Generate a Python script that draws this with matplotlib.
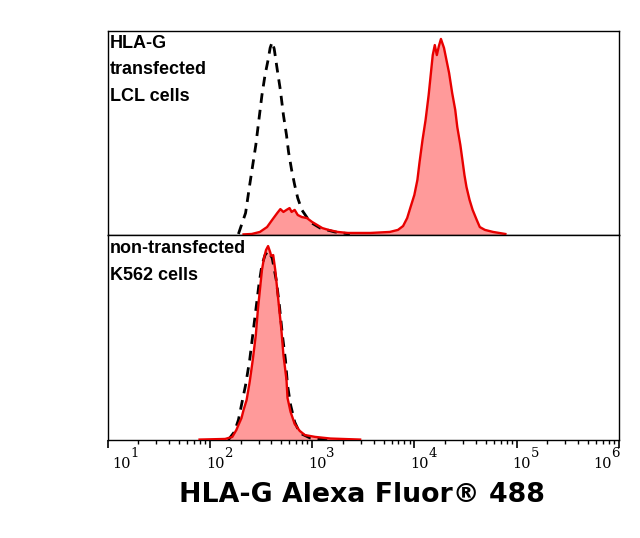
import matplotlib
matplotlib.use("Agg")
import matplotlib.pyplot as plt
import matplotlib.transforms as mtransforms
import numpy as np

# log10 fluorescence, % of max count
top_red_x = [2.33, 2.41, 2.49, 2.56, 2.61, 2.66, 2.69, 2.72, 2.75, 2.78, 2.80, 2.83,
             2.86, 2.90, 2.95, 3.00, 3.05, 3.10, 3.16, 3.25, 3.35, 3.57, 3.76, 3.84,
             3.89, 3.93, 3.96, 4.00, 4.03, 4.05, 4.08, 4.11, 4.14, 4.16, 4.18, 4.20,
             4.22, 4.24, 4.26, 4.29, 4.32, 4.34, 4.37, 4.40, 4.42, 4.45, 4.47, 4.49,
             4.51, 4.54, 4.57, 4.61, 4.64, 4.69, 4.77, 4.89]
top_red_y = [0.3, 0.5, 1.5, 3.9, 7.4, 10.8, 12.7, 11.3, 12.3, 13.2, 11.3, 12.3,
             9.8, 8.8, 8.3, 6.4, 4.9, 3.4, 2.5, 1.5, 1.0, 1.0, 1.5, 2.5,
             4.4, 8.3, 13.2, 19.6, 27.0, 35.3, 46.6, 56.4, 68.6, 78.4, 88.2, 93.1,
             88.2, 92.6, 96.1, 91.7, 84.3, 79.4, 69.6, 61.3, 52.9, 44.1, 36.8, 29.4,
             23.5, 17.2, 12.3, 7.4, 3.9, 2.5, 1.5, 0.5]

top_ctrl_x = [2.28, 2.32, 2.35, 2.39, 2.42, 2.45, 2.48, 2.51, 2.54, 2.57, 2.59, 2.61,
              2.63, 2.66, 2.69, 2.72, 2.75, 2.77, 2.80, 2.83, 2.86, 2.90, 2.98, 3.08,
              3.22, 3.37]
top_ctrl_y = [0.5, 6.4, 10.8, 24.5, 34.3, 44.1, 56.4, 68.6, 78.4, 85.8, 91.7, 94.6,
              91.2, 80.9, 71.1, 58.8, 49.0, 40.7, 31.9, 24.5, 18.1, 12.3, 6.4, 3.4,
              1.5, 0.5]

bot_red_x = [1.90, 2.15, 2.22, 2.26, 2.28, 2.31, 2.33, 2.36, 2.39, 2.42, 2.45, 2.47,
             2.49, 2.51, 2.53, 2.55, 2.57, 2.59, 2.60, 2.62, 2.64, 2.67, 2.70, 2.72,
             2.75, 2.76, 2.79, 2.83, 2.88, 2.93, 3.03, 3.18, 3.47]
bot_red_y = [0.2, 0.5, 1.5, 4.9, 7.3, 10.7, 14.6, 19.5, 28.3, 39.0, 51.2, 63.4,
             73.2, 82.9, 88.8, 92.7, 94.6, 91.7, 89.8, 90.2, 82.9, 68.3, 53.7, 41.5,
             29.3, 20.5, 13.7, 7.8, 4.4, 2.4, 1.5, 0.7, 0.2]

bot_ctrl_x = [2.18, 2.24, 2.28, 2.31, 2.35, 2.39, 2.42, 2.45, 2.48, 2.51, 2.54, 2.57,
              2.61, 2.65, 2.68, 2.71, 2.74, 2.76, 2.79, 2.83, 2.88, 2.98, 3.18]
bot_ctrl_y = [0.0, 3.9, 9.8, 17.1, 26.8, 39.0, 51.2, 63.4, 75.6, 85.4, 90.2, 92.2,
              88.8, 78.0, 65.9, 51.2, 39.0, 26.8, 17.1, 8.8, 3.4, 1.0, 0.0]

top_label = ["HLA-G", "transfected", "LCL cells"]
bot_label = ["non-transfected", "K562 cells"]
decades = [1, 2, 3, 4, 5, 6]
label_dx = [5, -4, -4, -4, -4, -26]   # pixel nudge of each tick label

RED = "#e80000"
FILL = "#ff9a9a"

fig = plt.figure(figsize=(6.4, 5.38), dpi=100)
ax_top = fig.add_axes([0.168, 0.5632, 0.799, 0.3792])
ax_bot = fig.add_axes([0.168, 0.1822, 0.799, 0.381])


def draw(ax, rx, ry, cx, cy, lines, y0):
    rx = 10 ** np.array(rx)
    cx = 10 ** np.array(cx)
    ax.fill_between(rx, ry, 0, color=FILL, lw=0, zorder=1)
    ax.plot(cx, cy, color="black", lw=2.0, dashes=[3.5, 2.5], zorder=2)
    ax.plot(rx, ry, color=RED, lw=1.7, zorder=3)
    ax.set_xscale("log")
    ax.set_xlim(10, 1e6)
    ax.set_ylim(0, 100)
    ax.set_yticks([])
    for s in ax.spines.values():
        s.set_linewidth(1.0)
    for i, t in enumerate(lines):
        ax.text(0.004, y0 - i * 0.13, t, transform=ax.transAxes, fontsize=13,
                fontweight="bold", family="Liberation Sans", va="baseline", ha="left")


draw(ax_top, top_red_x, top_red_y, top_ctrl_x, top_ctrl_y, top_label, 0.917)
draw(ax_bot, bot_red_x, bot_red_y, bot_ctrl_x, bot_ctrl_y, bot_label, 0.912)

ax_top.tick_params(axis="x", which="both", bottom=False, labelbottom=False)

ax_bot.set_xticks([10.0 ** d for d in decades])
ax_bot.set_xticklabels([])
ax_bot.tick_params(axis="x", which="major", length=6, width=1.2, direction="out")
ax_bot.tick_params(axis="x", which="minor", length=3, width=1.0, direction="out")

# tick labels drawn as "10" plus a raised exponent, like the original
xt = ax_bot.get_xaxis_transform()
for d, dx in zip(decades, label_dx):
    tb = mtransforms.offset_copy(xt, fig=fig, x=dx, y=-28, units="dots")
    ax_bot.text(10.0 ** d, 0, "10", transform=tb, family="DejaVu Serif", fontsize=10.5,
                ha="left", va="baseline", clip_on=False)
    te = mtransforms.offset_copy(xt, fig=fig, x=dx + 18, y=-17, units="dots")
    ax_bot.text(10.0 ** d, 0, str(d), transform=te, family="DejaVu Serif", fontsize=9.5,
                ha="left", va="baseline", clip_on=False)

fig.text(0.566, 0.067, "HLA-G Alexa Fluor® 488", ha="center", va="baseline",
         fontsize=19.3, fontweight="bold", family="DejaVu Sans")

fig.savefig("out.png", dpi=100)
